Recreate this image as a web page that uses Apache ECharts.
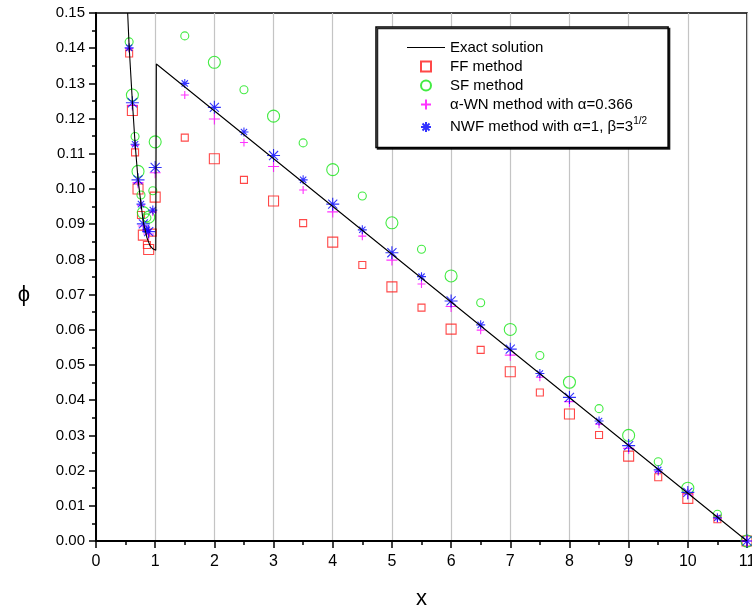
<!DOCTYPE html>
<html><head><meta charset="utf-8">
<script src="https://cdn.jsdelivr.net/npm/echarts@6/dist/echarts.min.js"></script>
<style>html,body{margin:0;padding:0;background:#fff}#chart{width:752px;height:612px}</style>
</head><body><div id="chart"></div>
<script>
// Exact solution curve
const exactX = [0.535, 0.56, 0.615, 0.66, 0.71, 0.76, 0.80, 0.86, 0.91, 0.96, 1.01, 1.02, 11];
const exactY = [0.150, 0.1405, 0.1247, 0.1130, 0.1028, 0.0958, 0.0905, 0.0862, 0.0840, 0.0830, 0.0826, 0.1355, 0];

// Coarse grid (large markers)
const xCoarse   = [0.615, 0.71, 0.80, 0.89, 1.0, 2, 3, 4, 5, 6, 7, 8, 9, 10, 11];
const ffCoarse  = [0.1223, 0.1000, 0.0869, 0.0828, 0.0977, 0.1086, 0.0966, 0.0849, 0.0722, 0.0602, 0.0481, 0.0361, 0.0241, 0.0121, 0];
const sfCoarse  = [0.1267, 0.1050, 0.0933, 0.0920, 0.1134, 0.1360, 0.1207, 0.1055, 0.0904, 0.0753, 0.0601, 0.0451, 0.0300, 0.0150, 0];
const wnCoarse  = [0.1238, 0.1018, 0.0895, 0.0872, 0.1046, 0.1199, 0.1064, 0.0935, 0.0798, 0.0666, 0.0528, 0.0396, 0.0263, 0.0133, 0];
const nwfCoarse = [0.1245, 0.1026, 0.0901, 0.0879, 0.1061, 0.1232, 0.1095, 0.0957, 0.0819, 0.0682, 0.0545, 0.0408, 0.0271, 0.0138, 0];

// Fine grid (small markers)
const xFine   = [0.56, 0.66, 0.76, 0.86, 0.96, 1.5, 2.5, 3.5, 4.5, 5.5, 6.5, 7.5, 8.5, 9.5, 10.5];
const ffFine  = [0.1385, 0.1104, 0.0926, 0.0841, 0.0876, 0.1146, 0.1026, 0.0903, 0.0784, 0.0663, 0.0543, 0.0422, 0.0301, 0.0181, 0.0062];
const sfFine  = [0.1418, 0.1149, 0.0983, 0.0918, 0.0995, 0.1435, 0.1282, 0.1131, 0.0980, 0.0829, 0.0677, 0.0527, 0.0376, 0.0225, 0.0076];
const wnFine  = [0.1399, 0.1124, 0.0954, 0.0880, 0.0935, 0.1267, 0.1132, 0.0997, 0.0866, 0.0730, 0.0599, 0.0465, 0.0332, 0.0197, 0.0064];
const nwfFine = [0.1401, 0.1127, 0.0957, 0.0884, 0.0940, 0.1300, 0.1162, 0.1026, 0.0884, 0.0751, 0.0614, 0.0476, 0.0341, 0.0202, 0.0066];

const names = ['Exact solution', 'FF method', 'SF method', 'α-WN method with α=0.366', 'NWF method with α=1, β=3^1/2'];

const pts = (xs, ys) => xs.map((x, i) => [x, ys[i]]);
const FONT = 'Liberation Sans, Arial, Helvetica, sans-serif';
const PLUS = 'path://M0,5L10,5M5,0L5,10';
const STAR = 'path://M0,5L10,5M5,0L5,10M1.5,1.5L8.5,8.5M8.5,1.5L1.5,8.5';
const SQUARE = 'path://M0,0L10,0L10,10L0,10Z';
const LINEICON = 'path://M0,0L38,0L38,1.2L0,1.2Z';

function scatter(name, data, symbol, size, color, z) {
  return {
    name, type: 'scatter', data, symbol, symbolSize: size, symbolKeepAspect: true,
    itemStyle: { color: 'transparent', borderColor: color, borderWidth: 1.1 },
    emphasis: { disabled: true }, z
  };
}

const chart = echarts.init(document.getElementById('chart'), null, { renderer: 'canvas' });
chart.setOption({
  animation: false,
  backgroundColor: '#fff',
  textStyle: { fontFamily: FONT },
  grid: { left: 96, right: 5, top: 13, bottom: 71, show: true, borderColor: '#000', borderWidth: 1.5, backgroundColor: 'transparent', outerBoundsMode: 'none', containLabel: false },
  legend: {
    left: 376, top: 27, orient: 'vertical',
    padding: [13, 21, 13, 31],
    itemWidth: 38, itemHeight: 10, itemGap: 4,
    backgroundColor: '#fff', borderColor: '#000', borderWidth: 1.5,
    shadowColor: 'rgba(0,0,0,0.85)', shadowOffsetX: 1.5, shadowOffsetY: 1.5, shadowBlur: 0,
    selectedMode: false,
    data: [
      { name: names[0], icon: LINEICON, itemStyle: { color: '#000', borderWidth: 0 } },
      { name: names[1], icon: SQUARE },
      { name: names[2] },
      { name: names[3] },
      { name: names[4] }
    ],
    textStyle: {
      fontFamily: FONT, fontSize: 15, color: '#000',
      rich: { sup: { fontFamily: FONT, fontSize: 10, color: '#000', padding: [0, 0, 12, 0] } }
    },
    formatter: n => n.indexOf('NWF') === 0 ? 'NWF method with α=1, β=3{sup|1/2}' : n
  },
  xAxis: {
    type: 'value', min: 0, max: 11, interval: 1,
    name: 'x', nameLocation: 'middle', nameGap: 47,
    nameTextStyle: { fontFamily: FONT, fontSize: 22, color: '#000' },
    axisLine: { show: true, onZero: false, lineStyle: { color: '#000', width: 2 } },
    axisTick: { show: true, inside: false, length: 7, lineStyle: { color: '#000', width: 1.5 } },
    minorTick: { show: true, splitNumber: 2, length: 4, lineStyle: { color: '#000', width: 1.5 } },
    axisLabel: { fontFamily: FONT, fontSize: 16, color: '#000', margin: 13, hideOverlap: false, showMinLabel: true, showMaxLabel: true },
    splitLine: { show: true, lineStyle: { color: '#c4c4c4', width: 1.2 } }
  },
  yAxis: {
    type: 'value', min: 0, max: 0.15, interval: 0.01,
    name: 'ϕ', nameLocation: 'middle', nameRotate: 0, nameGap: 66,
    nameTextStyle: { fontFamily: FONT, fontSize: 22, color: '#000', verticalAlign: 'top', lineHeight: 36 },
    axisLine: { show: true, onZero: false, lineStyle: { color: '#000', width: 2 } },
    axisTick: { show: true, inside: false, length: 7, lineStyle: { color: '#000', width: 1.5 } },
    minorTick: { show: true, splitNumber: 2, length: 4, lineStyle: { color: '#000', width: 1.5 } },
    axisLabel: { fontFamily: FONT, fontSize: 15, color: '#000', margin: 11, formatter: v => v.toFixed(2), hideOverlap: false, showMinLabel: true, showMaxLabel: true },
    splitLine: { show: false }
  },
  series: [
    {
      name: names[0], type: 'line', data: pts(exactX, exactY), symbol: 'none', showSymbol: false,
      lineStyle: { color: '#000', width: 1.1 }, itemStyle: { color: '#000' }, z: 6,
      emphasis: { disabled: true }
    },
    scatter(names[1], pts(xCoarse, ffCoarse), 'rect', 10, '#ff1a1a', 2),
    scatter(names[1], pts(xFine, ffFine), 'rect', 7, '#ff1a1a', 2),
    scatter(names[2], pts(xCoarse, sfCoarse), 'circle', 12, '#14e614', 3),
    scatter(names[2], pts(xFine, sfFine), 'circle', 8, '#14e614', 3),
    scatter(names[3], pts(xCoarse, wnCoarse), PLUS, 11, '#ff00ff', 4),
    scatter(names[3], pts(xFine, wnFine), PLUS, 8, '#ff00ff', 4),
    scatter(names[4], pts(xCoarse, nwfCoarse), STAR, 13, '#0000ff', 5),
    scatter(names[4], pts(xFine, nwfFine), STAR, 9, '#0000ff', 5)
  ]
});
</script>
</body></html>
